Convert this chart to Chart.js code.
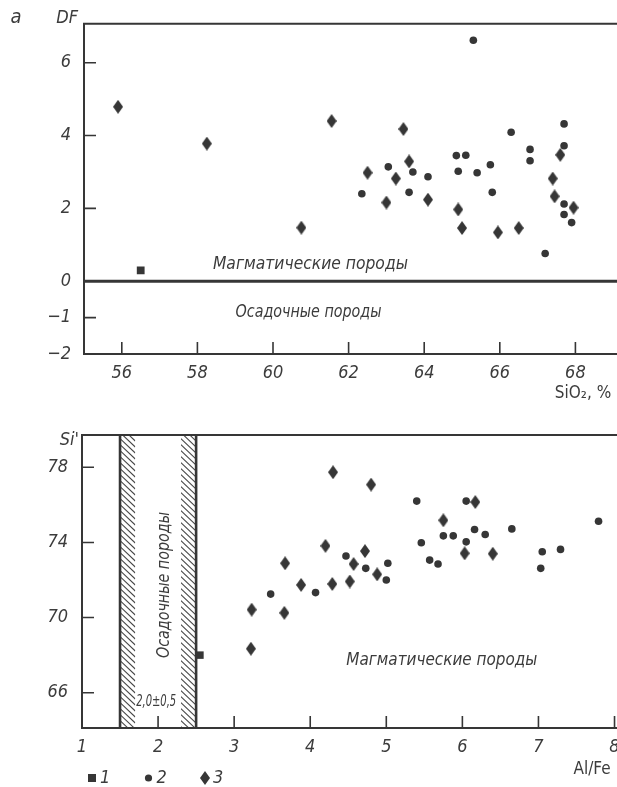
<!DOCTYPE html>
<html>
<head>
<meta charset="utf-8">
<script src="https://cdn.jsdelivr.net/npm/chart.js@4.4.1/dist/chart.umd.min.js"></script>
<style>
  html, body { margin: 0; padding: 0; background: #fff; overflow: hidden; }
  canvas { position: absolute; left: 0; }
  #chartA { top: 0; }
  #chartB { top: 410px; }
</style>
</head>
<body>
<canvas id="chartA" width="640" height="410"></canvas>
<canvas id="chartB" width="640" height="377"></canvas>
<script>
// ---- panel a: DF vs SiO2 ----
const sio2Ticks = [56, 58, 60, 62, 64, 66, 68];
const dfTicks = [6, 4, 2, 0, -1, -2];

const s1SiO2 = [56.5];
const s1DF = [0.3];
const s2SiO2 = [65.3, 66.3, 67.7, 67.7, 66.8, 66.8, 64.85, 65.1, 63.05, 63.7, 64.9, 65.4, 65.75,
                64.1, 62.35, 63.6, 65.8, 67.7, 67.7, 67.9, 67.2];
const s2DF = [6.62, 4.09, 4.32, 3.72, 3.62, 3.31, 3.45, 3.46, 3.14, 3.0, 3.02, 2.98, 3.2,
              2.87, 2.4, 2.44, 2.44, 2.12, 1.83, 1.61, 0.76];
const s3SiO2 = [55.9, 58.25, 61.55, 63.45, 63.6, 62.5, 63.25, 67.4, 67.6, 67.45, 63.0, 64.1,
                64.9, 65.0, 65.95, 66.5, 67.95, 60.75];
const s3DF = [4.79, 3.78, 4.40, 4.18, 3.29, 2.98, 2.82, 2.82, 3.47, 2.33, 2.16, 2.24,
              1.97, 1.46, 1.34, 1.46, 2.02, 1.47];
const boundarySiO2 = [55, 69.6];
const boundaryDF = [0, 0];

// ---- panel b: Si' vs Al/Fe ----
const alfeTicks = [1, 2, 3, 4, 5, 6, 7, 8];
const siTicks = [78, 74, 70, 66];
const sedimentBand = [1.5, 2.5];

const b1AlFe = [2.55];
const b1Si = [68.0];
const b2AlFe = [5.40, 6.05, 7.79, 6.65, 6.16, 5.75, 5.88, 6.30, 6.05, 5.46, 7.29, 7.05, 4.47,
                5.02, 4.73, 5.57, 5.68, 7.03, 3.48, 4.07, 5.0];
const b2Si = [76.2, 76.2, 75.13, 74.72, 74.69, 74.35, 74.35, 74.42, 74.03, 73.98, 73.63, 73.5, 73.28,
              72.89, 72.62, 73.06, 72.85, 72.62, 71.25, 71.33, 72.0];
const b3AlFe = [4.30, 4.80, 6.17, 5.75, 4.20, 4.72, 6.03, 6.40, 4.57, 3.67, 4.88, 3.88, 4.29,
                4.52, 3.23, 3.66, 3.22];
const b3Si = [77.74, 77.08, 76.15, 75.18, 73.82, 73.54, 73.42, 73.40, 72.85, 72.89, 72.3, 71.74, 71.79,
              71.92, 70.42, 70.25, 68.34];

const seriesLabels = ['1', '2', '3'];

const INK = '#363636';
const TXT = '#3c3c3c';
const NARROW = "'Liberation Sans Narrow', 'DejaVu Sans Condensed', 'Liberation Sans', sans-serif";

const pts = (xs, ys) => xs.map((x, i) => ({ x: x, y: ys[i] }));

// elongated diamond marker
function makeDiamond(w, h) {
  const c = document.createElement('canvas');
  c.width = w; c.height = h;
  const g = c.getContext('2d');
  g.fillStyle = INK;
  g.beginPath();
  g.moveTo(w / 2, 0); g.lineTo(w, h / 2); g.lineTo(w / 2, h); g.lineTo(0, h / 2);
  g.closePath(); g.fill();
  return c;
}
const diamond = makeDiamond(10, 14);

function drawText(ctx, t) {
  ctx.save();
  ctx.font = t.font;
  ctx.fillStyle = TXT;
  ctx.textAlign = t.align || 'center';
  ctx.textBaseline = 'middle';
  ctx.translate(t.px, t.py);
  if (t.rotate) ctx.rotate(t.rotate);
  if (t.width) {
    const w = ctx.measureText(t.text).width;
    ctx.scale(t.width / w, 1);
  }
  ctx.fillText(t.text, 0, 0);
  ctx.restore();
}

const framePlugin = {
  id: 'frame',
  afterDraw(chart, args, opts) {
    const { ctx, chartArea: a, scales } = chart;
    const x = scales.x, y = scales.y;
    ctx.save();
    ctx.strokeStyle = INK;
    ctx.lineWidth = 2;
    ctx.beginPath();
    ctx.moveTo(a.right, a.top); ctx.lineTo(a.left, a.top);
    ctx.lineTo(a.left, a.bottom); ctx.lineTo(a.right, a.bottom);
    ctx.stroke();
    ctx.lineWidth = 1.6;
    ctx.beginPath();
    x.ticks.forEach(t => {
      const p = x.getPixelForValue(t.value);
      ctx.moveTo(p, a.bottom); ctx.lineTo(p, a.bottom - 12);
    });
    y.ticks.forEach(t => {
      const p = y.getPixelForValue(t.value);
      ctx.moveTo(a.left, p); ctx.lineTo(a.left + 12, p);
    });
    ctx.stroke();
    (opts.texts || []).forEach(t => {
      const px = t.data ? x.getPixelForValue(t.x) : t.x;
      const py = t.data ? y.getPixelForValue(t.y) : t.y;
      drawText(ctx, Object.assign({}, t, { px: px, py: py }));
    });
    if (opts.legend) {
      const L = opts.legend;
      chart.data.datasets.forEach(ds => {
        const k = seriesLabels.indexOf(ds.label);
        if (k < 0) return;
        const cx = L.x + k * L.gap, cy = L.y;
        ctx.fillStyle = INK;
        if (ds.pointStyle === 'rect') {
          ctx.fillRect(cx - 4, cy - 4, 8, 8);
        } else if (ds.pointStyle === 'circle') {
          ctx.beginPath(); ctx.arc(cx, cy, 3.6, 0, Math.PI * 2); ctx.fill();
        } else {
          ctx.drawImage(ds.pointStyle, Math.round(cx - 5), Math.round(cy - 7));
        }
        drawText(ctx, { text: ds.label, px: cx + 8, py: cy, align: 'left', font: 'italic 18px ' + NARROW });
      });
    }
    ctx.restore();
  }
};

const bandPlugin = {
  id: 'band',
  beforeDatasetsDraw(chart, args, opts) {
    if (!opts.range) return;
    const { ctx, chartArea: a, scales: { x } } = chart;
    const x0 = x.getPixelForValue(opts.range[0]);
    const x1 = x.getPixelForValue(opts.range[1]);
    const hw = x.getPixelForValue(opts.range[0] + opts.hatch) - x0;
    ctx.save();
    [[x0, x0 + hw], [x1 - hw, x1]].forEach(([l, r]) => {
      ctx.save();
      ctx.beginPath();
      ctx.rect(l, a.top, r - l, a.bottom - a.top);
      ctx.clip();
      ctx.beginPath();
      const drop = (r - l) * 0.95;
      for (let yy = a.top - drop; yy < a.bottom + drop; yy += 6) {
        ctx.moveTo(l, yy); ctx.lineTo(r, yy + drop);
      }
      ctx.lineWidth = 1.1;
      ctx.strokeStyle = '#4a4a4a';
      ctx.stroke();
      ctx.restore();
    });
    ctx.strokeStyle = INK;
    ctx.lineWidth = 2.6;
    ctx.beginPath();
    ctx.moveTo(x0, a.top); ctx.lineTo(x0, a.bottom);
    ctx.moveTo(x1, a.top); ctx.lineTo(x1, a.bottom);
    ctx.stroke();
    ctx.restore();
  }
};

function axisCfg(min, max, tickList, pad, fixSize, isX) {
  return {
    type: 'linear',
    min: min,
    max: max,
    grid: { display: false, drawTicks: false },
    border: { display: false },
    afterBuildTicks: s => { s.ticks = tickList.map(v => ({ value: v })); },
    afterFit: s => { if (isX) s.height = fixSize; else s.width = fixSize; },
    ticks: {
      padding: pad,
      color: TXT,
      font: { family: NARROW, size: 18, style: 'italic' },
      callback: v => (v < 0 ? '\u2212' + Math.abs(v) : String(v))
    }
  };
}

function pointSet(label, data, style, r) {
  return {
    type: 'scatter',
    label: label,
    data: data,
    pointStyle: style,
    pointRadius: r,
    pointHoverRadius: r,
    backgroundColor: INK,
    borderColor: INK,
    borderWidth: 0
  };
}

new Chart(document.getElementById('chartA'), {
  type: 'scatter',
  data: {
    datasets: [
      {
        type: 'line',
        label: 'boundary',
        data: pts(boundarySiO2, boundaryDF),
        borderColor: INK,
        borderWidth: 3,
        pointRadius: 0
      },
      pointSet('1', pts(s1SiO2, s1DF), 'rect', 5.5),
      pointSet('2', pts(s2SiO2, s2DF), 'circle', 3.8),
      pointSet('3', pts(s3SiO2, s3DF), diamond, 6)
    ]
  },
  options: {
    responsive: false,
    animation: false,
    layout: { padding: { top: 16, left: 0, right: 0, bottom: 0 } },
    scales: {
      x: axisCfg(55, 69.55, sio2Ticks, 9, 56, true),
      y: axisCfg(-2, 7.07, dfTicks, 13, 84, false)
    },
    plugins: {
      legend: { display: false },
      tooltip: { enabled: false },
      frame: {
        texts: [
          { text: 'а', x: 16, y: 18, font: 'italic 20px ' + NARROW },
          { text: 'DF', x: 78, y: 18, align: 'right', font: 'italic 18px ' + NARROW },
          { text: 'SiO\u2082, %', x: 583, y: 394, font: '17px ' + NARROW },
          { text: 'Магматические породы', data: true, x: 60.99, y: 0.46, width: 195, font: 'italic 17px ' + NARROW },
          { text: 'Осадочные породы', data: true, x: 60.94, y: -0.85, width: 146, font: 'italic 17px ' + NARROW }
        ]
      }
    }
  },
  plugins: [framePlugin]
});

new Chart(document.getElementById('chartB'), {
  type: 'scatter',
  data: {
    datasets: [
      pointSet('1', pts(b1AlFe, b1Si), 'rect', 5.3),
      pointSet('2', pts(b2AlFe, b2Si), 'circle', 3.8),
      pointSet('3', pts(b3AlFe, b3Si), diamond, 6)
    ]
  },
  options: {
    responsive: false,
    animation: false,
    layout: { padding: { top: 25, left: 0, right: 0, bottom: 0 } },
    scales: {
      x: axisCfg(1, 8.256, alfeTicks, 9, 59, true),
      y: axisCfg(64.12, 79.72, siTicks, 14, 82, false)
    },
    plugins: {
      legend: { display: false },
      tooltip: { enabled: false },
      band: { range: sedimentBand, hatch: 0.2 },
      frame: {
        texts: [
          { text: "Si'", x: 79, y: 30, align: 'right', font: 'italic 18px ' + NARROW },
          { text: 'Al/Fe', x: 592, y: 360, font: '17px ' + NARROW },
          { text: 'Магматические породы', data: true, x: 5.73, y: 67.73, width: 191, font: 'italic 17px ' + NARROW },
          { text: 'Осадочные породы', data: true, x: 2.08, y: 71.73, width: 146, rotate: -Math.PI / 2, font: 'italic 17px ' + NARROW },
          { text: '2,0±0,5', data: true, x: 1.975, y: 65.5, width: 40, font: 'italic 15px ' + NARROW }
        ],
        legend: { x: 92, y: 368, gap: 56.5 }
      }
    }
  },
  plugins: [bandPlugin, framePlugin]
});
</script>
</body>
</html>
